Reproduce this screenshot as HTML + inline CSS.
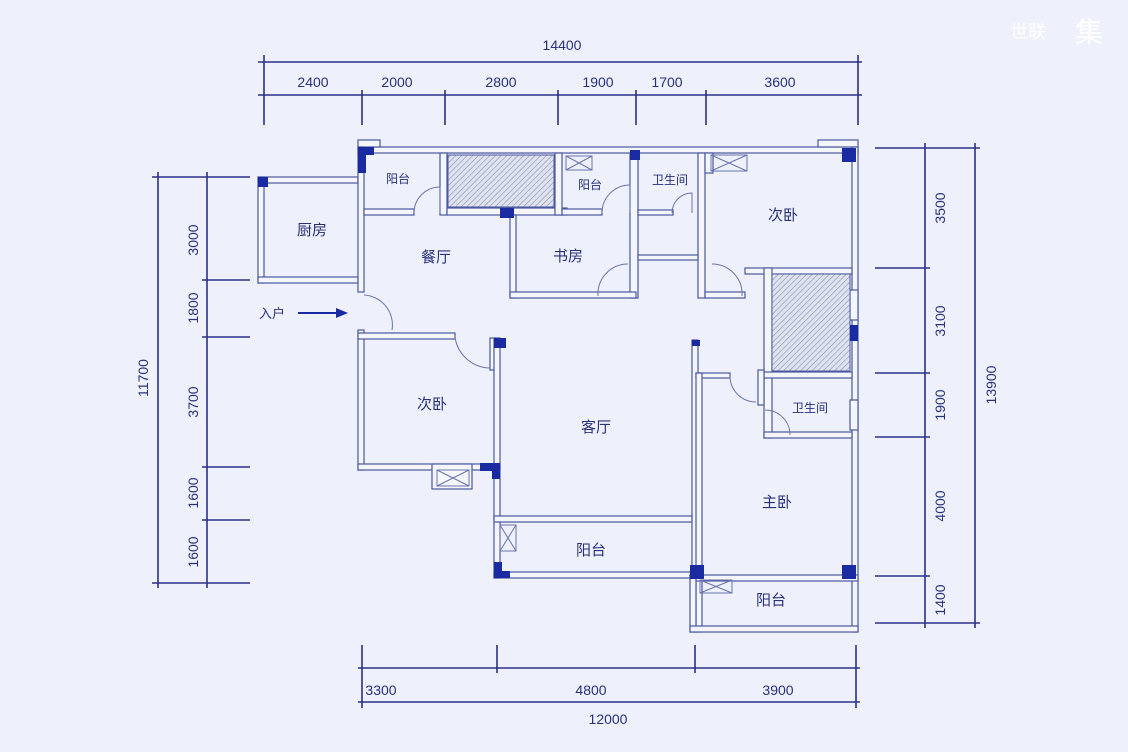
<!DOCTYPE html>
<html><head><meta charset="utf-8"><style>
html,body{margin:0;padding:0;background:#eef1fb;}
svg{display:block}
text{font-family:"Liberation Sans","Noto Sans CJK SC",sans-serif;fill:#28307a}
</style></head><body>
<svg width="1128" height="752" viewBox="0 0 1128 752" xmlns="http://www.w3.org/2000/svg">
<defs>
<pattern id="h" width="4" height="4" patternUnits="userSpaceOnUse" patternTransform="rotate(45)">
<rect width="4" height="4" fill="#dfe3ef"/><line x1="0" y1="0" x2="0" y2="4" stroke="#8890b0" stroke-width="1.2"/></pattern>
</defs>
<rect width="1128" height="752" fill="#eef1fb"/>
<text x="1010" y="38" font-size="18" style="fill:#ffffff">世联</text>
<text x="1075" y="42" font-size="28" style="fill:#ffffff">集</text>

<!-- dimension lines -->
<g stroke="#2a2f8a" stroke-width="1.6" fill="none">
<line x1="258" y1="62" x2="862" y2="62"/>
<line x1="258" y1="95" x2="862" y2="95"/>
<line x1="264" y1="55" x2="264" y2="125"/>
<line x1="858" y1="55" x2="858" y2="125"/>
<line x1="362" y1="90" x2="362" y2="125"/>
<line x1="445" y1="90" x2="445" y2="125"/>
<line x1="558" y1="90" x2="558" y2="125"/>
<line x1="636" y1="90" x2="636" y2="125"/>
<line x1="706" y1="90" x2="706" y2="125"/>

<line x1="158" y1="172" x2="158" y2="588"/>
<line x1="207" y1="172" x2="207" y2="588"/>
<line x1="152" y1="177" x2="250" y2="177"/>
<line x1="152" y1="583" x2="250" y2="583"/>
<line x1="202" y1="280" x2="250" y2="280"/>
<line x1="202" y1="337" x2="250" y2="337"/>
<line x1="202" y1="467" x2="250" y2="467"/>
<line x1="202" y1="520" x2="250" y2="520"/>

<line x1="925" y1="143" x2="925" y2="628"/>
<line x1="975" y1="143" x2="975" y2="628"/>
<line x1="875" y1="148" x2="980" y2="148"/>
<line x1="875" y1="623" x2="980" y2="623"/>
<line x1="875" y1="268" x2="930" y2="268"/>
<line x1="875" y1="373" x2="930" y2="373"/>
<line x1="875" y1="437" x2="930" y2="437"/>
<line x1="875" y1="576" x2="930" y2="576"/>

<line x1="358" y1="668" x2="860" y2="668"/>
<line x1="358" y1="702" x2="860" y2="702"/>
<line x1="362" y1="645" x2="362" y2="708"/>
<line x1="856" y1="645" x2="856" y2="708"/>
<line x1="497" y1="645" x2="497" y2="673"/>
<line x1="695" y1="645" x2="695" y2="673"/>
</g>
<g font-size="14" text-anchor="middle">
<text x="562" y="50">14400</text>
<text x="313" y="87">2400</text><text x="397" y="87">2000</text><text x="501" y="87">2800</text>
<text x="598" y="87">1900</text><text x="667" y="87">1700</text><text x="780" y="87">3600</text>
<text x="381" y="695">3300</text><text x="591" y="695">4800</text><text x="778" y="695">3900</text>
<text x="608" y="724">12000</text>
<text transform="translate(148,378) rotate(-90)">11700</text>
<text transform="translate(198,240) rotate(-90)">3000</text>
<text transform="translate(198,308) rotate(-90)">1800</text>
<text transform="translate(198,402) rotate(-90)">3700</text>
<text transform="translate(198,493) rotate(-90)">1600</text>
<text transform="translate(198,552) rotate(-90)">1600</text>
<text transform="translate(945,208) rotate(-90)">3500</text>
<text transform="translate(945,321) rotate(-90)">3100</text>
<text transform="translate(945,405) rotate(-90)">1900</text>
<text transform="translate(945,506) rotate(-90)">4000</text>
<text transform="translate(945,600) rotate(-90)">1400</text>
<text transform="translate(996,385) rotate(-90)">13900</text>
</g>

<!-- walls -->
<g fill="#f4f6fc" stroke="#4a58a0" stroke-width="1.2">
<!-- top -->
<rect x="358" y="147" width="500" height="6"/>
<rect x="358" y="140" width="22" height="7"/>
<rect x="818" y="140" width="40" height="7"/>
<rect x="852" y="147" width="6" height="485"/>
<!-- kitchen -->
<rect x="258" y="177" width="100" height="6"/>
<rect x="258" y="177" width="6" height="106"/>
<rect x="258" y="277" width="100" height="6"/>
<rect x="358" y="147" width="6" height="145"/>
<rect x="358" y="330" width="6" height="140"/>
<rect x="358" y="333" width="97" height="6"/>
<rect x="490" y="338" width="6" height="32"/>
<rect x="358" y="464" width="142" height="6"/>
<rect x="432" y="464" width="40" height="25"/>
<!-- top row -->
<rect x="364" y="209" width="50" height="6"/>
<rect x="440" y="153" width="7" height="62"/>
<rect x="447" y="208" width="120" height="7"/>
<rect x="555" y="153" width="7" height="62"/>
<rect x="562" y="209" width="40" height="6"/>
<rect x="630" y="153" width="8" height="145"/>
<rect x="638" y="210" width="35" height="5"/>
<rect x="698" y="153" width="7" height="145"/>
<rect x="638" y="255" width="60" height="5"/>
<rect x="510" y="215" width="6" height="83"/>
<rect x="510" y="292" width="126" height="6"/>
<rect x="705" y="292" width="40" height="6"/>
<rect x="705" y="153" width="8" height="20"/>
<rect x="745" y="268" width="107" height="6"/>
<rect x="764" y="268" width="8" height="170"/>
<rect x="764" y="432" width="88" height="6"/>
<rect x="764" y="372" width="88" height="6"/>
<rect x="758" y="370" width="6" height="35"/>
<!-- living -->
<rect x="494" y="338" width="6" height="240"/>
<rect x="692" y="340" width="6" height="240"/>
<rect x="494" y="516" width="198" height="6"/>
<rect x="494" y="572" width="198" height="6"/>
<rect x="696" y="373" width="34" height="5"/>
<rect x="696" y="373" width="6" height="259"/>
<rect x="690" y="575" width="168" height="6"/>
<rect x="690" y="575" width="6" height="57"/>
<rect x="690" y="626" width="168" height="6"/>
<rect x="850" y="290" width="8" height="30"/>
<rect x="850" y="400" width="8" height="30"/>
</g>
<!-- hatched -->
<rect x="448" y="155" width="106" height="52" fill="url(#h)" stroke="#4a58a0"/>
<rect x="772" y="274" width="78" height="97" fill="url(#h)" stroke="#4a58a0"/>
<!-- vents -->
<g fill="none" stroke="#6a74aa" stroke-width="1">
<rect x="566" y="156" width="26" height="14"/><path d="M566 156L592 170M592 156L566 170"/>
<rect x="711" y="155" width="36" height="16"/><path d="M711 155L747 171M747 155L711 171"/>
<rect x="437" y="470" width="32" height="16"/><path d="M437 470L469 486M469 470L437 486"/>
<rect x="500" y="525" width="16" height="26"/><path d="M500 525L516 551M516 525L500 551"/>
<rect x="700" y="580" width="32" height="13"/><path d="M700 580L732 593M732 580L700 593"/>
<!-- doors -->
<path d="M414 213 A26 26 0 0 1 440 187 L440 213"/>
<path d="M602 213 A28 28 0 0 1 630 185 L630 213"/>
<path d="M672 213 A20 20 0 0 1 692 193 L692 213"/>
<path d="M598 296 A30 30 0 0 1 628 264"/>
<path d="M742 296 A30 30 0 0 0 712 264"/>
<path d="M455 337 A36 36 0 0 0 490 368"/>
<path d="M364 295 A30 30 0 0 1 392 330"/>
<path d="M730 376 A26 26 0 0 0 756 402"/>
<path d="M765 410 A25 25 0 0 1 790 435"/>
</g>
<!-- columns -->
<g fill="#1a2aa0">
<rect x="358" y="147" width="8" height="26"/><rect x="358" y="147" width="16" height="8"/>
<rect x="258" y="177" width="10" height="10"/>
<rect x="500" y="208" width="14" height="10"/>
<rect x="630" y="150" width="10" height="10"/>
<rect x="842" y="148" width="14" height="14"/>
<rect x="494" y="338" width="12" height="10"/>
<rect x="692" y="340" width="8" height="6"/>
<rect x="850" y="325" width="8" height="16"/>
<rect x="480" y="463" width="20" height="8"/><rect x="492" y="463" width="8" height="16"/>
<rect x="494" y="562" width="8" height="16"/><rect x="494" y="571" width="16" height="7"/>
<rect x="690" y="565" width="14" height="14"/>
<rect x="842" y="565" width="14" height="14"/>
</g>

<!-- entry arrow -->
<line x1="298" y1="313" x2="340" y2="313" stroke="#1a2aa0" stroke-width="2"/>
<path d="M348 313 L336 308 L336 318 Z" fill="#1a2aa0"/>

<g font-size="15" text-anchor="middle">
<text x="312" y="235">厨房</text>
<text x="436" y="262">餐厅</text>
<text x="568" y="261">书房</text>
<text x="783" y="220">次卧</text>
<text x="432" y="409">次卧</text>
<text x="596" y="432">客厅</text>
<text x="777" y="507">主卧</text>
<text x="591" y="555">阳台</text>
<text x="771" y="605">阳台</text>
<text x="272" y="318" font-size="13">入户</text>
<text x="398" y="183" font-size="12">阳台</text>
<text x="590" y="189" font-size="12">阳台</text>
<text x="670" y="184" font-size="12">卫生间</text>
<text x="810" y="412" font-size="12">卫生间</text>
</g>
</svg>
</body></html>
